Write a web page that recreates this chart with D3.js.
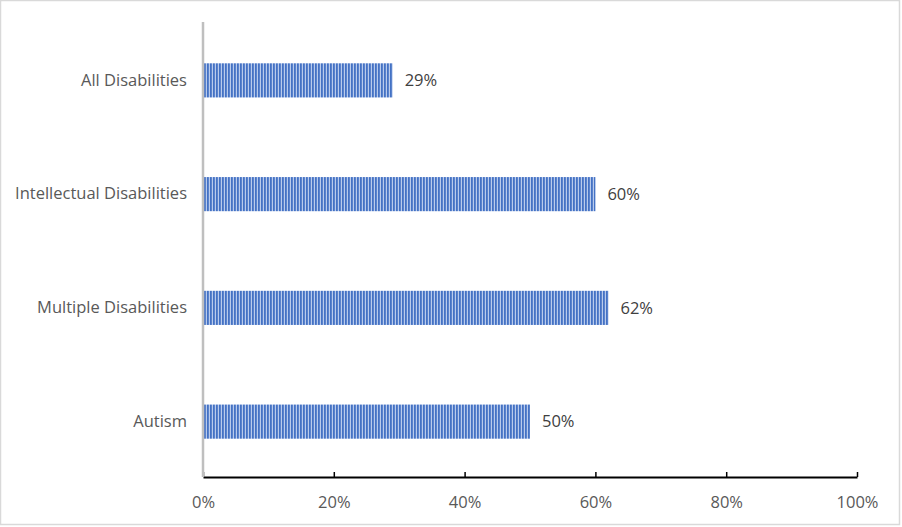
<!DOCTYPE html>
<html>
<head>
<meta charset="utf-8">
<script src="https://cdn.jsdelivr.net/npm/d3@7"></script>
<style>
  body { margin: 0; background: #fff; }
  text { font-family: "Open Sans", Lato, sans-serif; }
</style>
</head>
<body>
<svg id="chart"></svg>
<script>
  const categories = ["All Disabilities", "Intellectual Disabilities", "Multiple Disabilities", "Autism"];
  const values = [0.29, 0.60, 0.62, 0.50];
  const xTicks = [0, 0.2, 0.4, 0.6, 0.8, 1.0];

  const width = 902, height = 527;
  const margin = { top: 22, right: 45, bottom: 50, left: 203 };
  const fontFam = "'Open Sans', Lato, sans-serif";
  const fontSize = 16.5;

  const svg = d3.select("#chart")
    .attr("width", width)
    .attr("height", height);

  // stripe pattern for bars
  const defs = svg.append("defs");
  const pat = defs.append("pattern")
    .attr("id", "stripes")
    .attr("patternUnits", "userSpaceOnUse")
    .attr("width", 3)
    .attr("height", 10);
  pat.append("rect").attr("width", 3).attr("height", 10).attr("fill", "#b9cbec");
  pat.append("rect").attr("width", 1.8).attr("height", 10).attr("fill", "#4472c4");

  // outer border
  svg.append("rect")
    .attr("x", 0.5).attr("y", 0.5)
    .attr("width", width - 3).attr("height", height - 3)
    .attr("fill", "#fff")
    .attr("stroke", "#d9d9d9")
    .attr("stroke-width", 1.5);

  const xScale = d3.scaleLinear()
    .domain([0, 1])
    .range([margin.left, width - margin.right]);

  const yScale = d3.scaleBand()
    .domain(categories)
    .range([margin.top + 1.5, height - margin.bottom + 1.5])
    .paddingInner(0.7)
    .paddingOuter(0.35);

  // bars
  svg.selectAll(".bar")
    .data(categories)
    .enter()
    .append("rect")
      .attr("class", "bar")
      .attr("x", xScale(0))
      .attr("y", d => yScale(d))
      .attr("height", yScale.bandwidth())
      .attr("width", (d, i) => xScale(values[i]) - xScale(0))
      .attr("fill", "url(#stripes)");

  // value labels
  svg.selectAll(".val")
    .data(categories)
    .enter()
    .append("text")
      .attr("class", "val")
      .attr("x", (d, i) => xScale(values[i]) + 12)
      .attr("y", d => yScale(d) + yScale.bandwidth() / 2)
      .attr("dy", "0.35em")
      .attr("font-size", fontSize)
      .attr("fill", "#404040")
      .text((d, i) => d3.format(".0%")(values[i]));

  // x axis
  const xAxis = svg.append("g")
    .attr("transform", `translate(0, ${height - margin.bottom})`)
    .call(d3.axisBottom(xScale).tickValues(xTicks).tickFormat(d3.format(".0%")).tickSize(-5).tickSizeOuter(0).tickPadding(19));
  xAxis.select(".domain").attr("stroke", "#000").attr("stroke-width", 2);
  xAxis.selectAll(".tick line").attr("stroke", "#000").attr("stroke-width", 1.5);
  xAxis.selectAll(".tick text")
    .attr("font-size", fontSize)
    .attr("fill", "#595959")
    .attr("font-family", fontFam);

  // y axis
  const yAxis = svg.append("g")
    .attr("transform", `translate(${margin.left}, 0)`)
    .call(d3.axisLeft(yScale).tickSize(0).tickPadding(16));
  yAxis.select(".domain")
    .attr("stroke", "#bfbfbf")
    .attr("stroke-width", 2.5)
    .attr("d", `M0,${margin.top}V${height - margin.bottom}`);
  yAxis.selectAll(".tick text")
    .attr("font-size", fontSize)
    .attr("fill", "#595959")
    .attr("font-family", fontFam);
</script>
</body>
</html>
